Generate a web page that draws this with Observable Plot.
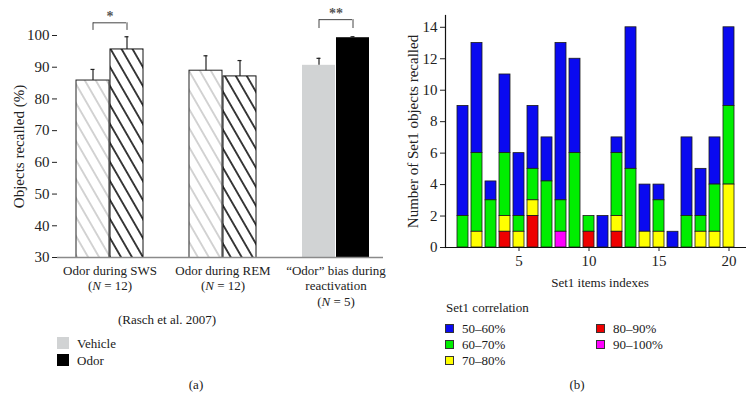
<!DOCTYPE html>
<html><head><meta charset="utf-8">
<script src="https://cdn.jsdelivr.net/npm/d3@7"></script>
<script src="https://cdn.jsdelivr.net/npm/@observablehq/plot@0.6"></script>
<style>
body{margin:0;background:#fff;font-family:"Liberation Serif",serif;}
#root{position:relative;width:754px;height:409px;overflow:hidden;background:#fff;}
.panel{position:absolute;top:0;}
.t{position:absolute;font-size:13px;color:#1a1a1a;white-space:nowrap;line-height:1;transform:translateY(-50%);}
.c{transform:translate(-50%,-50%);}
.sq{position:absolute;box-sizing:border-box;}
</style></head><body><div id="root"></div>
<script>
// ---------- Panel (a) data ----------
const groups = ["Odor during SWS\n(N = 12)", "Odor during REM\n(N = 12)", "“Odor” bias during\nreactivation\n(N = 5)"];
const series = ["Vehicle", "Odor"];
const vehicleMean = [85.8, 88.9, 90.6];
const vehicleErr  = [3.5, 4.7, 2.2];
const odorMean    = [95.6, 87.1, 99.3];
const odorErr     = [4.0, 5.0, 0.3];
const yTicksA = [30, 40, 50, 60, 70, 80, 90, 100];
const sigLabels = ["*", "", "**"];
const sigTop    = [104.0, null, 105.0];
const sigLeg    = [101.6, null, 102.2];

// ---------- Panel (b) data ----------
const items = d3.range(1, 21);
const cats = ["50–60%", "60–70%", "70–80%", "80–90%", "90–100%"];
const blue50    = [7, 7, 1.2, 5, 4, 4, 2.8, 10, 6, 0, 2, 1, 9, 3, 1, 1, 5, 3, 3, 5];
const green60   = [2, 5, 3, 4, 1, 2, 4.2, 2, 6, 1, 0, 4, 5, 0, 2, 0, 2, 1, 3, 5];
const yellow70  = [0, 1, 0, 1, 1, 1, 0, 0, 0, 0, 0, 1, 0, 1, 1, 0, 0, 1, 1, 4];
const red80     = [0, 0, 0, 1, 0, 2, 0, 0, 0, 1, 0, 1, 0, 0, 0, 0, 0, 0, 0, 0];
const magenta90 = [0, 0, 0, 0, 0, 0, 0, 1, 0, 0, 0, 0, 0, 0, 0, 0, 0, 0, 0, 0];
const yTicksB = [0, 2, 4, 6, 8, 10, 12, 14];
const xTicksB = [5, 10, 15, 20];

// ---------- build tables ----------
const rowsA = groups.map((g, i) => ({group: g, idx: i,
  vMean: vehicleMean[i], vErr: vehicleErr[i], oMean: odorMean[i], oErr: odorErr[i],
  sig: sigLabels[i], top: sigTop[i], leg: sigLeg[i]}));
const sigRows = rowsA.filter(d => d.sig);
const isHatched = d => d.idx < 2;

const catValues = [blue50, green60, yellow70, red80, magenta90];
const rowsB = [];
cats.forEach((c, ci) => items.forEach((it, ii) => {
  const v = catValues[ci][ii];
  if (v > 0) rowsB.push({item: it, cat: c, count: v});
}));
const stackOrder = ["80–90%", "90–100%", "70–80%", "60–70%", "50–60%"];
const catColors = ["#0a0af0", "#00ee00", "#ffff00", "#ee0000", "#ff00ff"];

const font = "'Liberation Serif', serif";
const half = 34, capIn = 14.5;

const plotA = Plot.plot({
  width: 384, height: 310, marginLeft: 57, marginRight: 1, marginTop: 35, marginBottom: 53,
  style: {fontFamily: font, fontSize: "13px", background: "transparent", color: "#222", overflow: "visible"},
  x: {domain: groups, range: [74.7, 370.7], paddingInner: 0.4035, paddingOuter: 0, axis: null},
  y: {domain: [30, 100], axis: null},
  marks: [
    Plot.axisY(yTicksA, {tickSize: 5, tickPadding: 3, fontSize: 15, label: "Objects recalled (%)", labelAnchor: "center", labelOffset: 44, labelArrow: "none"}),
    Plot.axisX({tickSize: 0, tickPadding: 6, lineHeight: 1.2, label: null}),
    Plot.barY(rowsA, {filter: isHatched, x: "group", y: "vMean", fill: "url(#hatchLight)", stroke: "#222", strokeWidth: 1, insetRight: half, clip: true}),
    Plot.barY(rowsA, {filter: isHatched, x: "group", y: "oMean", fill: "url(#hatchDark)", stroke: "#111", strokeWidth: 1, insetLeft: half, clip: true}),
    Plot.barY(rowsA, {filter: d => !isHatched(d), x: "group", y: "vMean", fill: "#d1d3d4", insetRight: half, clip: true}),
    Plot.barY(rowsA, {filter: d => !isHatched(d), x: "group", y: "oMean", fill: "#000", insetLeft: half, clip: true}),
    Plot.ruleX(rowsA, {x: "group", y1: "vMean", y2: d => d.vMean + d.vErr, dx: -half / 2, stroke: "#222", strokeWidth: 1.2}),
    Plot.ruleX(rowsA, {x: "group", y1: "oMean", y2: d => d.oMean + d.oErr, dx: half / 2, stroke: "#222", strokeWidth: 1.2}),
    Plot.tickY(rowsA, {x: "group", y: d => d.vMean + d.vErr, insetLeft: capIn, insetRight: 2 * half - capIn - 5, stroke: "#222", strokeWidth: 1.2}),
    Plot.tickY(rowsA, {x: "group", y: d => d.oMean + d.oErr, insetLeft: 2 * half - capIn - 5, insetRight: capIn, stroke: "#222", strokeWidth: 1.2}),
    Plot.ruleY([30], {stroke: "#8a8a8a", strokeWidth: 1.5}),
    // significance brackets
    Plot.tickY(sigRows, {x: "group", y: "top", insetLeft: half / 2, insetRight: half / 2, stroke: "#444", strokeWidth: 1}),
    Plot.ruleX(sigRows, {x: "group", y1: "leg", y2: "top", dx: -half / 2, stroke: "#444", strokeWidth: 1}),
    Plot.ruleX(sigRows, {x: "group", y1: "leg", y2: "top", dx: half / 2, stroke: "#444", strokeWidth: 1}),
    Plot.text(sigRows, {x: "group", y: "top", text: "sig", dy: -6, fill: "#555", fontSize: 14, fontWeight: "bold"})
  ]
});

const plotB = Plot.plot({
  width: 374, height: 295, marginLeft: 65, marginRight: 8, marginTop: 15, marginBottom: 48,
  style: {fontFamily: font, fontSize: "13px", background: "transparent", color: "#222", overflow: "visible"},
  x: {domain: items, range: [73.15, 357.85], paddingInner: 0.186, paddingOuter: 0, axis: null},
  y: {domain: [0, 14.75], axis: null},
  color: {domain: cats, range: catColors},
  marks: [
    Plot.barY(rowsB, {x: "item", y: "count", fill: "cat", order: stackOrder, stroke: "#1a1a1a", strokeWidth: 0.8}),
    Plot.axisY(yTicksB, {tickSize: 5, tickPadding: 3, fontSize: 15, label: "Number of Set1 objects recalled", labelAnchor: "center", labelOffset: 38, labelArrow: "none"}),
    Plot.axisX(xTicksB, {tickSize: 4, tickPadding: 4, fontSize: 15, label: null}),
    Plot.ruleY([0], {stroke: "#111", strokeWidth: 1.2}),
    Plot.frame({anchor: "left", stroke: "#111", strokeWidth: 1.2})
  ]
});

// hatch patterns
const defs = document.createElementNS("http://www.w3.org/2000/svg", "defs");
defs.innerHTML = `
<pattern id="hatchLight" patternUnits="userSpaceOnUse" width="9.5" height="20" patternTransform="rotate(-30)">
  <rect width="9.5" height="20" fill="#fff"/>
  <line x1="4.75" y1="-1" x2="4.75" y2="21" stroke="#9c9c9c" stroke-width="0.9"/>
</pattern>
<pattern id="hatchDark" patternUnits="userSpaceOnUse" width="9.5" height="20" patternTransform="rotate(-30)">
  <rect width="9.5" height="20" fill="#fff"/>
  <line x1="4.75" y1="-1" x2="4.75" y2="21" stroke="#000" stroke-width="1.5"/>
</pattern>`;
plotA.insertBefore(defs, plotA.firstChild);

// italic N
plotA.querySelectorAll("tspan, text").forEach(el => {
  if (el.children.length === 0) {
    const m = /^\(N = (\d+)\)$/.exec(el.textContent);
    if (m) el.innerHTML = `(<tspan font-style="italic">N</tspan> = ${m[1]})`;
  }
});

const root = document.getElementById("root");
plotA.classList.add("panel"); plotA.style.left = "0px";
plotB.classList.add("panel"); plotB.style.left = "380px";
root.appendChild(plotA);
root.appendChild(plotB);

function txt(s, x, y, center, size) {
  const d = document.createElement("div");
  d.className = "t" + (center ? " c" : "");
  d.textContent = s; d.style.left = x + "px"; d.style.top = y + "px";
  if (size) d.style.fontSize = size + "px";
  root.appendChild(d);
}
function sq(x, y, w, fill, border) {
  const d = document.createElement("div");
  d.className = "sq";
  d.style.left = x + "px"; d.style.top = y + "px"; d.style.width = w + "px"; d.style.height = w + "px";
  d.style.background = fill; if (border) d.style.border = "1px solid " + border;
  root.appendChild(d);
}
// panel (a) annotations
txt("(Rasch et al. 2007)", 167, 319, true);
sq(57, 337, 12, "#d1d3d4"); txt(series[0], 77, 343);
sq(57, 354, 12, "#000"); txt(series[1], 77, 360);
txt("(a)", 196, 384, true);
// panel (b) axis title and legend
txt("Set1 items indexes", 600, 282, true);
txt("Set1 correlation", 446, 307);
const legPos = [[445, 328], [445, 344], [445, 360], [596, 328], [596, 344]];
cats.forEach((c, i) => {
  const [x, y] = legPos[i];
  sq(x, y - 4.5, 9, catColors[i], "#333");
  txt(c, x + 17, y);
});
txt("(b)", 577, 384, true);
</script></body></html>
